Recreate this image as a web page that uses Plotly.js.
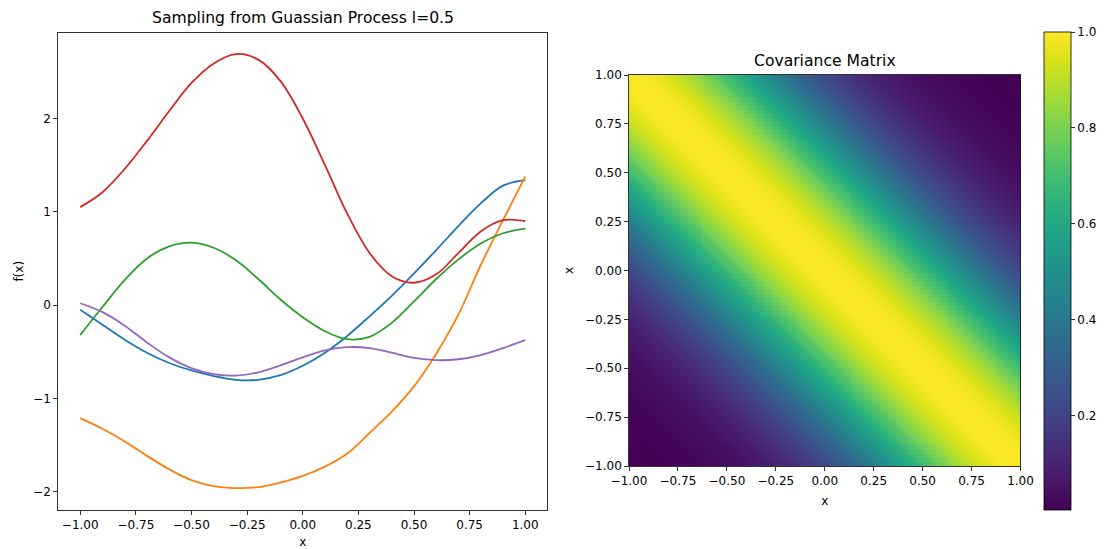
<!DOCTYPE html>
<html>
<head>
<meta charset="utf-8">
<script src="https://cdn.plot.ly/plotly-3.0.1.min.js"></script>
<style>html,body{margin:0;padding:0;background:#fff}#chart{width:1108px;height:549px}</style>
</head>
<body>
<div id="chart"></div>
<script>
// ---- sample paths ----
const X = [-1.0, -0.9, -0.8, -0.7, -0.6, -0.5, -0.4, -0.3, -0.2, -0.1, 0.0, 0.1, 0.2, 0.3, 0.4, 0.5, 0.6, 0.7, 0.8, 0.9, 1.0];
const BLUE   = [-0.05, -0.21, -0.37, -0.51, -0.62, -0.70, -0.76, -0.80, -0.80, -0.75, -0.65, -0.51, -0.33, -0.12, 0.10, 0.34, 0.59, 0.85, 1.09, 1.28, 1.34];
const ORANGE = [-1.21, -1.325, -1.46, -1.615, -1.76, -1.875, -1.94, -1.96, -1.95, -1.90, -1.83, -1.73, -1.59, -1.37, -1.14, -0.87, -0.52, -0.10, 0.43, 0.91, 1.38];
const GREEN  = [-0.32, -0.02, 0.27, 0.50, 0.63, 0.67, 0.615, 0.48, 0.28, 0.06, -0.13, -0.28, -0.365, -0.34, -0.19, 0.04, 0.28, 0.49, 0.66, 0.77, 0.82];
const RED    = [1.05, 1.21, 1.46, 1.76, 2.08, 2.38, 2.59, 2.69, 2.63, 2.40, 2.00, 1.50, 0.98, 0.56, 0.31, 0.24, 0.33, 0.56, 0.79, 0.91, 0.90];
const PURPLE = [0.02, -0.075, -0.22, -0.40, -0.56, -0.675, -0.74, -0.755, -0.72, -0.645, -0.56, -0.485, -0.45, -0.46, -0.51, -0.565, -0.59, -0.58, -0.535, -0.46, -0.375];

// ---- covariance by grid lag (0..99 steps) ----
const LAG = [1.000,0.999,0.998,0.995,0.990,0.985,0.978,0.971,0.962,0.952,
             0.941,0.929,0.916,0.903,0.888,0.872,0.856,0.839,0.822,0.803,
             0.785,0.765,0.746,0.726,0.705,0.685,0.664,0.643,0.622,0.600,
             0.579,0.558,0.537,0.517,0.496,0.476,0.456,0.436,0.417,0.398,
             0.379,0.361,0.343,0.326,0.309,0.293,0.277,0.262,0.247,0.233,
             0.220,0.207,0.194,0.182,0.171,0.160,0.149,0.139,0.130,0.121,
             0.113,0.105,0.097,0.090,0.083,0.077,0.071,0.066,0.061,0.056,
             0.051,0.047,0.043,0.039,0.036,0.033,0.030,0.027,0.025,0.023,
             0.021,0.019,0.017,0.015,0.014,0.013,0.011,0.010,0.009,0.008,
             0.007,0.007,0.006,0.005,0.005,0.004,0.004,0.003,0.003,0.003];
const CB_TICKS = [0.2, 0.4, 0.6, 0.8, 1.0];

const N = LAG.length;
const Z = [];
for (let i = 0; i < N; i++) {
  const row = [];
  for (let j = 0; j < N; j++) row.push(LAG[Math.abs(N - 1 - i - j)]);
  Z.push(row);
}

const W = 1108, H = 549;
const px = v => v / W, py = v => 1 - v / H;
const FONT = 'DejaVu Sans, Liberation Sans, sans-serif';

function line(y, color) {
  return {x: X, y: y, type: 'scatter', mode: 'lines', xaxis: 'x', yaxis: 'y',
          line: {color: color, width: 1.8, shape: 'spline', smoothing: 1},
          hoverinfo: 'skip', showlegend: false};
}

const traces = [
  line(BLUE, '#1f77b4'),
  line(ORANGE, '#ff7f0e'),
  line(GREEN, '#2ca02c'),
  line(RED, '#d62728'),
  line(PURPLE, '#9467bd'),
  {
    type: 'heatmap', z: Z, x0: -1 + 1 / N, dx: 2 / N, y0: -1 + 1 / N, dy: 2 / N,
    xaxis: 'x2', yaxis: 'y2', colorscale: 'Viridis', zsmooth: false,
    hoverinfo: 'skip',
    colorbar: {
      x: px(1044), xanchor: 'left', xref: 'paper', xpad: 0,
      y: py(271), yanchor: 'middle', yref: 'paper', ypad: 0,
      len: 478 / H, lenmode: 'fraction', thickness: 27, thicknessmode: 'pixels',
      outlinewidth: 0.8, outlinecolor: '#000',
      tickvals: CB_TICKS, tickformat: '.1f', ticks: 'outside', ticklen: 4, tickwidth: 0.8,
      tickcolor: '#000', tickfont: {family: FONT, size: 12, color: '#000'}
    }
  }
];

const axBase = {
  showgrid: false, zeroline: false, showline: true, linecolor: '#000', linewidth: 0.8,
  mirror: true, ticks: 'outside', ticklen: 4, tickwidth: 0.8, tickcolor: '#000',
  tickfont: {family: FONT, size: 12, color: '#000'}, automargin: false
};

const layout = {
  width: W, height: H,
  margin: {l: 0, r: 0, t: 0, b: 0},
  paper_bgcolor: '#fff', plot_bgcolor: '#fff',
  font: {family: FONT, size: 12, color: '#000'},
  title: {text: 'Sampling from Guassian Process l=0.5', x: px(303), xanchor: 'center',
          y: py(18), yanchor: 'middle', font: {family: FONT, size: 15.6, color: '#000'}},
  xaxis: Object.assign({}, axBase, {
    domain: [px(58), px(547.5)], range: [-1.1, 1.1], tick0: -1, dtick: 0.25, tickformat: '.2f',
    anchor: 'y', title: {text: 'x', standoff: 8, font: {family: FONT, size: 12, color: '#000'}}
  }),
  yaxis: Object.assign({}, axBase, {
    domain: [py(510), py(32.5)], range: [-2.195, 2.921], tick0: 0, dtick: 1, tickformat: 'd',
    anchor: 'x', title: {text: 'f(x)', standoff: 6, font: {family: FONT, size: 12, color: '#000'}}
  }),
  xaxis2: Object.assign({}, axBase, {
    domain: [px(629), px(1020.5)], range: [-1, 1], tick0: -1, dtick: 0.25, tickformat: '.2f',
    anchor: 'y2', title: {text: 'x', standoff: 9, font: {family: FONT, size: 12, color: '#000'}}
  }),
  yaxis2: Object.assign({}, axBase, {
    domain: [py(466), py(75)], range: [-1, 1], tick0: -1, dtick: 0.25, tickformat: '.2f',
    anchor: 'x2', title: {text: 'x', standoff: 8, font: {family: FONT, size: 12, color: '#000'}}
  }),
  annotations: [{
    text: 'Covariance Matrix', x: px(824.5), y: py(61), xref: 'paper', yref: 'paper',
    xanchor: 'center', yanchor: 'middle', showarrow: false,
    font: {family: FONT, size: 15.6, color: '#000'}
  }]
};

Plotly.newPlot('chart', traces, layout, {displayModeBar: false, staticPlot: true});
</script>
</body>
</html>
